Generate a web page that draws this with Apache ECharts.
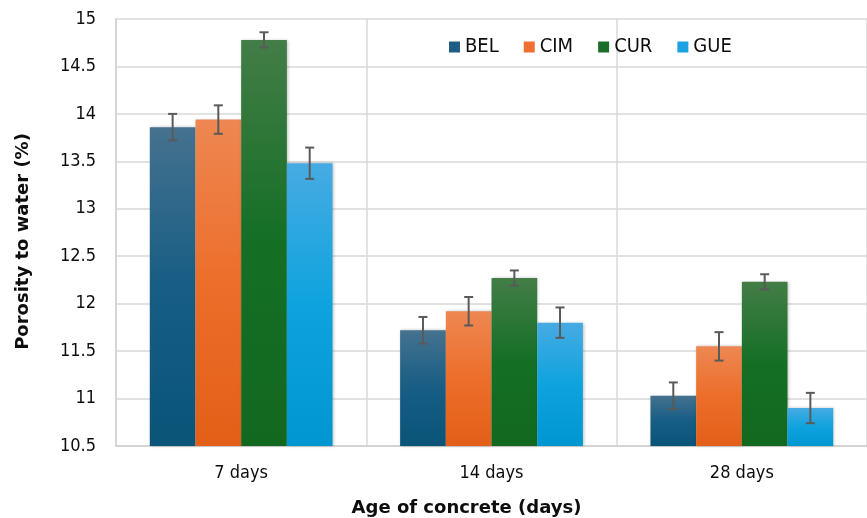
<!DOCTYPE html>
<html>
<head>
<meta charset="utf-8">
<script src="https://cdn.jsdelivr.net/npm/echarts@6/dist/echarts.min.js"></script>
<style>
html,body{margin:0;padding:0;background:#fff;}
#chart{width:867px;height:518px;}
</style>
</head>
<body>
<div id="chart"></div>
<script>
var categories = ['7 days', '14 days', '28 days'];
var seriesNames = ['BEL', 'CIM', 'CUR', 'GUE'];
var BEL = [13.86, 11.72, 11.03];
var CIM = [13.94, 11.92, 11.55];
var CUR = [14.78, 12.27, 12.23];
var GUE = [13.48, 11.80, 10.90];
var BEL_err = [0.14, 0.14, 0.14];
var CIM_err = [0.15, 0.15, 0.15];
var CUR_err = [0.08, 0.08, 0.08];
var GUE_err = [0.165, 0.16, 0.16];
var yTicks = ['10.5', '11', '11.5', '12', '12.5', '13', '13.5', '14', '14.5', '15'];

var values = [BEL, CIM, CUR, GUE];
var errors = [BEL_err, CIM_err, CUR_err, GUE_err];
var colorStops = [
  ['#45728f', '#175d84', '#0a5478'],
  ['#ee8752', '#ec6e2a', '#e35f18'],
  ['#437d47', '#146f25', '#13681f'],
  ['#47abe2', '#0ea3de', '#0096d2']
];
var legendColors = ['#1f5e84', '#ef7030', '#1b6e2a', '#1ba2e0'];
var categoryGap = 0.27;
var regFont = '"DejaVu Sans Condensed", "DejaVu Sans", sans-serif';

var chart = echarts.init(document.getElementById('chart'));

var series = [];
seriesNames.forEach(function (name, i) {
  series.push({
    name: name,
    type: 'bar',
    barGap: '0%',
    barCategoryGap: '27%',
    data: values[i],
    itemStyle: {
      color: new echarts.graphic.LinearGradient(0, 0, 0, 1, [
        {offset: 0, color: colorStops[i][0]},
        {offset: 0.5, color: colorStops[i][1]},
        {offset: 1, color: colorStops[i][2]}
      ]),
      shadowColor: 'rgba(0,0,0,0.25)',
      shadowBlur: 3,
      shadowOffsetX: 1,
      shadowOffsetY: 0
    },
    emphasis: {disabled: true}
  });
});

var errData = [];
for (var s = 0; s < values.length; s++) {
  for (var c = 0; c < categories.length; c++) {
    errData.push([c, s, values[s][c] - errors[s][c], values[s][c] + errors[s][c]]);
  }
}

series.push({
  type: 'custom',
  name: 'err',
  z: 10,
  silent: true,
  data: errData,
  encode: {x: 0, y: [2, 3]},
  renderItem: function (params, api) {
    var cat = api.value(0);
    var sIdx = api.value(1);
    var lo = api.coord([cat, api.value(2)]);
    var hi = api.coord([cat, api.value(3)]);
    var bandW = api.size([1, 0])[0];
    var barW = bandW * (1 - categoryGap) / 4;
    var x = lo[0] + (sIdx - 1.5) * barW;
    var cap = 4.5;
    var style = {stroke: '#5a5a5a', lineWidth: 2};
    return {
      type: 'group',
      children: [
        {type: 'line', shape: {x1: x, y1: hi[1], x2: x, y2: lo[1]}, style: style},
        {type: 'line', shape: {x1: x - cap, y1: hi[1], x2: x + cap, y2: hi[1]}, style: style},
        {type: 'line', shape: {x1: x - cap, y1: lo[1], x2: x + cap, y2: lo[1]}, style: style}
      ]
    };
  }
});

chart.setOption({
  animation: false,
  backgroundColor: '#ffffff',
  grid: {left: 116, right: 0, top: 19, bottom: 72, containLabel: false, outerBoundsMode: 'none'},
  legend: {
    data: seriesNames.map(function (n, i) { return {name: n, itemStyle: {color: legendColors[i]}}; }),
    left: 444,
    top: 32,
    icon: 'rect',
    itemWidth: 11,
    itemHeight: 11,
    itemGap: 25,
    textStyle: {fontFamily: regFont, fontSize: 20, color: '#0d0d0d'}
  },
  xAxis: {
    type: 'category',
    data: categories,
    name: 'Age of concrete (days)',
    nameLocation: 'middle',
    nameGap: 53,
    nameTextStyle: {fontFamily: '"DejaVu Sans", sans-serif', fontWeight: 'bold', fontSize: 18, color: '#0d0d0d', padding: [0, 50, 0, 0]},
    axisLine: {show: true, lineStyle: {color: '#d0d0d0', width: 1.5}},
    axisTick: {show: false},
    splitLine: {show: true, lineStyle: {color: '#d9d9d9', width: 1.5}},
    axisLabel: {fontFamily: regFont, fontSize: 18, color: '#0d0d0d', margin: 18}
  },
  yAxis: {
    type: 'value',
    min: 10.5,
    max: 15,
    interval: 0.5,
    name: 'Porosity to water (%)',
    nameLocation: 'middle',
    nameGap: 84,
    nameTextStyle: {fontFamily: '"DejaVu Sans", sans-serif', fontWeight: 'bold', fontSize: 18, color: '#0d0d0d', padding: [0, 18, 0, 0]},
    axisLine: {show: true, lineStyle: {color: '#d0d0d0', width: 1.5}},
    axisTick: {show: false},
    splitLine: {show: true, lineStyle: {color: '#d9d9d9', width: 1.5}},
    axisLabel: {
      fontFamily: regFont, fontSize: 18, color: '#0d0d0d', margin: 20,
      formatter: function (v) {
        var idx = Math.round((v - 10.5) / 0.5);
        return yTicks[idx] !== undefined ? yTicks[idx] : String(v);
      }
    }
  },
  series: series
});
</script>
</body>
</html>
